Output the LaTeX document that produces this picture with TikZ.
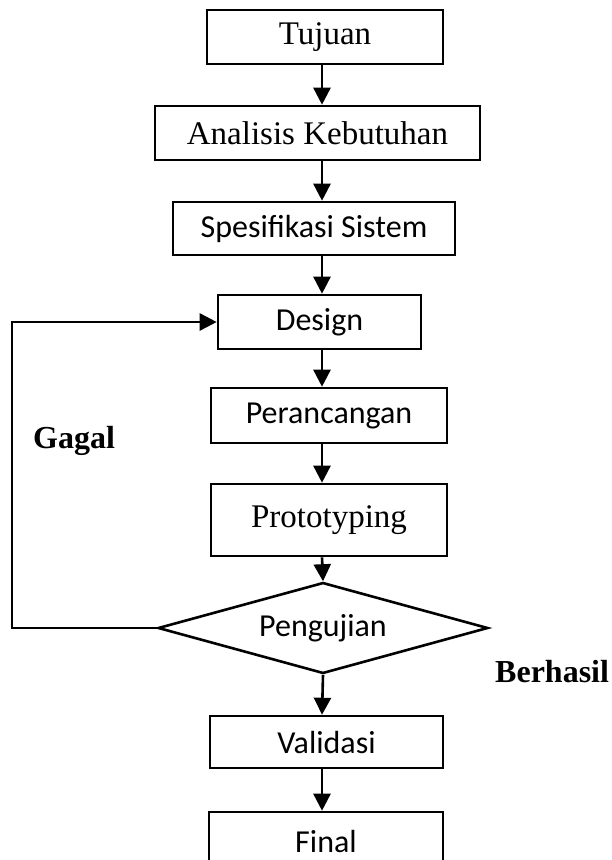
\documentclass[tikz,border=0pt]{standalone}
\usepackage{fontspec}
\setmainfont{Liberation Serif}
\newfontfamily\carl{Carlito}
\usetikzlibrary{arrows.meta,shapes.geometric}
\begin{document}
\begin{tikzpicture}[x=1pt,y=-1pt,
  box/.style 2 args={draw,line width=2.6pt,minimum width=#1pt,minimum height=#2pt,inner sep=0pt},
  serif/.style={font=\fontsize{33}{37}\selectfont},
  sans/.style={font=\carl\fontsize{32}{36}\selectfont},
  lbl/.style={font=\bfseries\fontsize{32}{36}\selectfont,inner sep=0pt},
  arr/.style={line width=2.6pt,-{Triangle[width=17pt,length=17pt]}}
]
\useasboundingbox[fill=white] (0,0) rectangle (611,860);
\node[box={236}{54},serif] (tujuan) at (325,37) {Tujuan};
\node[box={325}{54},serif] (analisis) at (317.5,133) {Analisis Kebutuhan};
\node[box={282}{53},sans] (spes) at (314,228.5) {Spesifikasi Sistem};
\node[box={203}{54},sans] (design) at (319.5,322) {Design};
\node[box={236}{55},sans] (peran) at (329,415.5) {Perancangan};
\node[box={236}{72},serif] (proto) at (329,520) {Prototyping};
\node[draw,diamond,aspect=3.6,line width=2.6pt,minimum width=330pt,minimum height=91pt,inner sep=0pt,sans] (uji) at (323,628) {Pengujian};
\node[box={233}{52},sans] (valid) at (326.5,742) {Validasi};
\node[box={234}{58},sans] (final) at (326,841) {Final};
\coordinate (ax) at (322,0);
\coordinate (lc) at (12,0);
\draw[arr] (tujuan.south -| ax) -- (analisis.north -| ax);
\draw[arr] (analisis.south -| ax) -- (spes.north -| ax);
\draw[arr] (spes.south -| ax) -- (design.north -| ax);
\draw[arr] (design.south -| ax) -- (peran.north -| ax);
\draw[arr] (peran.south -| ax) -- (proto.north -| ax);
\draw[arr] (proto.south -| ax) -- (uji.north);
\draw[arr] (uji.south) -- (valid.north -| ax);
\draw[arr] (valid.south -| ax) -- (final.north -| ax);
\draw[arr] (uji.west) -- (uji.west -| lc) -- (design.west -| lc) -- (design.west);
\node[lbl,anchor=base west] (gagal) at (33,448) {Gagal};
\node[lbl,anchor=base west] (berhasil) at (495,682) {Berhasil};
\end{tikzpicture}
\end{document}
